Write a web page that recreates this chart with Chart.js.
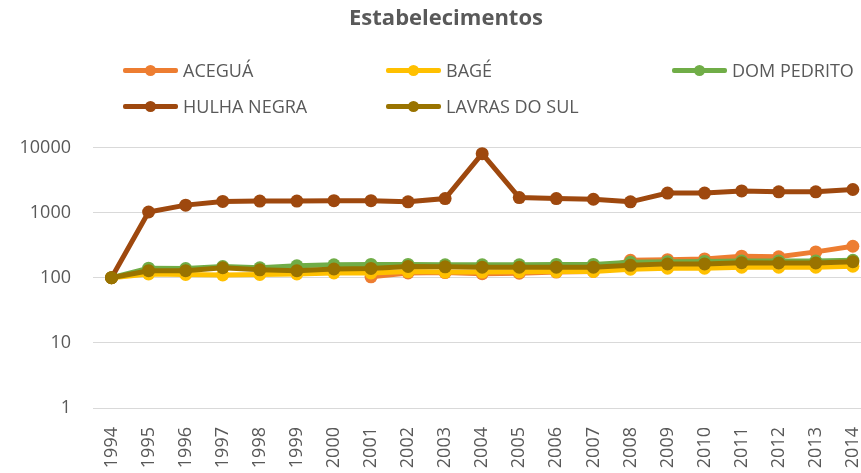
<!DOCTYPE html>
<html>
<head>
<meta charset="utf-8">
<script src="https://cdn.jsdelivr.net/npm/chart.js@4.4.1/dist/chart.umd.min.js"></script>
<style>
  html, body { margin: 0; padding: 0; background: #fff; overflow: hidden; }
  #wrap { position: relative; width: 861px; height: 473px; overflow: hidden; }
  #legend { position: absolute; left: 0; top: 0; width: 861px; height: 0; }
  .item { position: absolute; height: 20px; display: flex; align-items: center;
          font-family: "Open Sans", sans-serif; font-size: 18px; color: #595959; }
  .swatch { position: relative; width: 55px; height: 20px; margin-right: 5px; }
  .swatch .ln { position: absolute; left: 0; right: 0; top: 8px; height: 5px; border-radius: 2px; }
  .swatch .dot { position: absolute; left: 22px; top: 5px; width: 11px; height: 11px; border-radius: 50%; }
</style>
</head>
<body>
<div id="wrap">
  <canvas id="chart" width="861" height="473"></canvas>
  <div id="legend"></div>
</div>
<script>
// values
const years = [1994, 1995, 1996, 1997, 1998, 1999, 2000, 2001, 2002, 2003, 2004,
               2005, 2006, 2007, 2008, 2009, 2010, 2011, 2012, 2013, 2014];
const acegua = [null, null, null, null, null, null, null, 103, 118, 120, 115,
                117, 122, 125, 185, 189, 194, 214, 209, 249, 304];
const bage = [100, 114, 112, 110, 112, 114, 118, 118, 124, 122, 122,
              123, 124, 125, 135, 140, 140, 145, 145, 145, 150];
const domPedrito = [100, 140, 138, 148, 142, 152, 158, 160, 160, 158, 158,
                    158, 160, 160, 172, 175, 178, 180, 180, 180, 185];
const hulhaNegra = [100, 1020, 1300, 1480, 1500, 1500, 1520, 1520, 1460, 1640, 8000,
                    1700, 1640, 1600, 1460, 1990, 1990, 2150, 2080, 2080, 2260];
const lavrasDoSul = [100, 128, 128, 142, 132, 128, 136, 139, 149, 147, 145,
                     145, 145, 145, 155, 163, 163, 170, 168, 168, 176];
const yTicks = [1, 10, 100, 1000, 10000];

const series = [
  { label: 'ACEGUÁ', values: acegua, color: '#ED7D31' },
  { label: 'BAGÉ', values: bage, color: '#FFC000' },
  { label: 'DOM PEDRITO', values: domPedrito, color: '#70AD47' },
  { label: 'HULHA NEGRA', values: hulhaNegra, color: '#9E480E' },
  { label: 'LAVRAS DO SUL', values: lavrasDoSul, color: '#997300' }
];

// legend laid out in columns like the original
const legendPos = [[123, 60], [386, 60], [672, 60], [123, 96], [386, 96]];
const legend = document.getElementById('legend');
series.forEach((s, i) => {
  const el = document.createElement('div');
  el.className = 'item';
  el.style.left = legendPos[i][0] + 'px';
  el.style.top = legendPos[i][1] + 'px';
  el.innerHTML = '<span class="swatch"><span class="ln" style="background:' + s.color +
    '"></span><span class="dot" style="background:' + s.color + '"></span></span>' + s.label;
  legend.appendChild(el);
});

const ctx = document.getElementById('chart').getContext('2d');
new Chart(ctx, {
  type: 'line',
  data: {
    datasets: series.map((s, i) => ({
      label: s.label,
      data: years.map((y, j) => ({ x: y, y: s.values[j] })),
      borderColor: s.color,
      backgroundColor: s.color,
      pointBackgroundColor: s.color,
      pointBorderColor: s.color,
      borderWidth: 5,
      pointRadius: 6.5,
      pointBorderWidth: 0,
      tension: 0,
      clip: false,
      order: series.length - i
    }))
  },
  options: {
    responsive: false,
    animation: false,
    // the original is cropped on the right, title sits off-centre
    layout: { autoPadding: false, padding: { left: 12, right: -19, top: 0, bottom: 0 } },
    plugins: {
      legend: { display: false },
      tooltip: { enabled: false },
      title: {
        display: true,
        text: 'Estabelecimentos',
        color: '#595959',
        font: { family: 'Open Sans', size: 22, weight: 'bold' },
        padding: { top: 6, bottom: 115 }
      }
    },
    scales: {
      x: {
        type: 'linear',
        min: 1993.5,
        max: 2014.22,
        afterBuildTicks: axis => { axis.ticks = years.map(v => ({ value: v })); },
        afterFit: axis => { axis.paddingLeft = 0; axis.paddingRight = 0; axis.height = 65; },
        grid: { display: false },
        border: { display: false },
        ticks: {
          color: '#595959',
          font: { family: 'Open Sans', size: 18 },
          minRotation: 90,
          maxRotation: 90,
          padding: 11,
          callback: v => String(v)
        }
      },
      y: {
        type: 'logarithmic',
        min: 1,
        max: 10000,
        afterBuildTicks: axis => { axis.ticks = yTicks.map(v => ({ value: v })); },
        afterFit: axis => { axis.width = 81; },
        grid: { color: '#D9D9D9', lineWidth: 1, drawTicks: false },
        border: { display: false },
        ticks: {
          color: '#595959',
          font: { family: 'Open Sans', size: 18 },
          padding: 22,
          callback: v => String(v)
        }
      }
    }
  }
});
</script>
</body>
</html>
